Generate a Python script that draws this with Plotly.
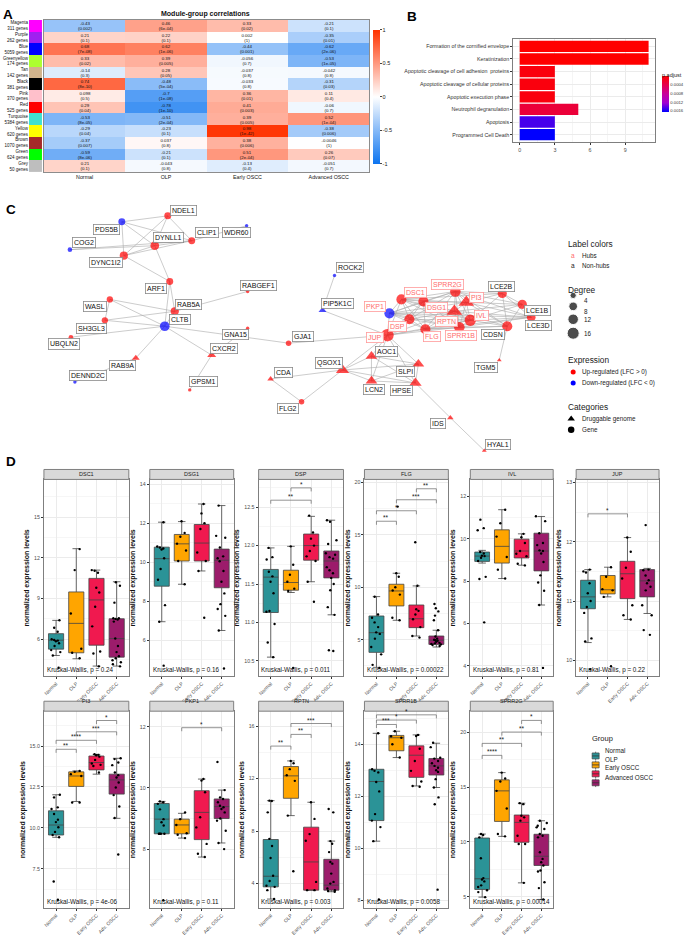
import math
import plotly.graph_objects as go

W, H = 685, 936
FONT = "Liberation Sans, Arial, sans-serif"


def fx(px):
    return px / W


def fy(px):
    return 1 - px / H


# ---------------- Panel A data: module-group correlations ----------------
stages = ["Normal", "OLP", "Early OSCC", "Advanced OSCC"]
modules = ["Magenta", "Purple", "Blue", "Greenyellow", "Tan", "Black", "Pink",
           "Red", "Turquoise", "Yellow", "Brown", "Green", "Grey"]
module_genes = [311, 262, 5059, 174, 142, 381, 370, 525, 5384, 620, 1070, 624, 50]
module_colors = ["#FF00FF", "#A020F0", "#0000FF", "#ADFF2F", "#D2B48C", "#000000", "#FFC0CB",
                 "#FF0000", "#40E0D0", "#FFFF00", "#A52A2A", "#00FF00", "#BEBEBE"]
cor_r = [
    [-0.43, 0.46, 0.33, -0.21],
    [0.21, 0.22, 0.002, -0.35],
    [0.68, 0.62, -0.44, -0.62],
    [0.33, 0.39, -0.056, -0.53],
    [-0.14, 0.28, -0.037, -0.042],
    [0.74, -0.48, -0.033, -0.31],
    [0.098, -0.7, 0.36, 0.11],
    [0.29, -0.78, 0.41, -0.06],
    [-0.53, -0.51, 0.39, 0.52],
    [-0.29, -0.23, 0.98, -0.38],
    [-0.37, 0.037, 0.38, -0.0046],
    [-0.59, -0.21, 0.51, 0.26],
    [0.21, -0.043, -0.13, -0.051],
]
cor_p = [
    ["0.002", "6e-04", "0.02", "0.1"],
    ["0.1", "0.1", "1", "0.01"],
    ["7e-08", "1e-06", "0.001", "2e-06"],
    ["0.02", "0.005", "0.7", "1e-05"],
    ["0.3", "0.05", "0.8", "0.8"],
    ["8e-10", "5e-04", "0.8", "0.03"],
    ["0.5", "1e-08", "0.01", "0.4"],
    ["0.04", "1e-10", "0.003", "0.7"],
    ["8e-05", "2e-04", "0.005", "1e-04"],
    ["0.04", "0.1", "1e-42", "0.006"],
    ["0.007", "0.8", "0.006", "1"],
    ["8e-06", "0.1", "2e-04", "0.07"],
    ["0.1", "0.8", "0.4", "0.7"],
]

# ---------------- Panel B data: pathway enrichment ----------------
pathways = ["Formation of the cornified envelope", "Keratinization",
            "Apoptotic cleavage of cell adhesion  proteins", "Apoptotic cleavage of cellular proteins",
            "Apoptotic execution phase", "Neutrophil degranulation", "Apoptosis", "Programmed Cell Death"]
path_counts = [11, 11, 3, 3, 3, 5, 3, 3]
path_padj = [0.00003, 0.00003, 0.00010, 0.00010, 0.00010, 0.00033, 0.00150, 0.00168]

# ---------------- Panel C data: PPI network ----------------
nodes = ["NDEL1", "PDS5B", "CLIP1", "WDR60", "DYNLL1", "COG2", "DYNC1I2", "ARF1", "RABGEF1", "WASL",
         "RAB5A", "CLTB", "SH3GL3", "UBQLN2", "GNA15", "CXCR2", "GJA1", "RAB9A", "DENND2C", "GPSM1",
         "CDA", "QSOX1", "FLG2", "ROCK2", "PIP5K1C", "PKP1", "DSC1", "SPRR2G", "DSG1", "PI3",
         "LCE2B", "RPTN", "IVL", "LCE1B", "LCE3D", "DSP", "FLG", "SPRR1B", "CDSN", "JUP",
         "AOC1", "TGM5", "SLPI", "LCN2", "HPSE", "IDS", "HYAL1"]
# layout coordinates of nodes and their labels (force-layout output)
node_x = [167, 121, 191, 246, 154, 69, 123, 169, 247, 109, 174, 164, 104, 70, 247, 211, 288, 135, 74, 189,
          270, 342, 301, 334, 322, 389, 401, 455, 423, 466, 502, 454, 470, 522, 531, 409, 425, 459, 507, 387,
          371, 499, 418, 371, 415, 450, 484]
node_y = [217, 223, 242, 227, 247, 251, 257, 283, 293, 301, 313, 328, 322, 339, 330, 357, 345, 360, 384, 392,
          381, 372, 404, 277, 312, 315, 301, 293, 303, 304, 295, 313, 322, 306, 319, 321, 331, 329, 328, 337,
          358, 362, 366, 383, 385, 420, 453]
label_x = [183, 106, 206, 236, 168, 83, 105, 155, 258, 94, 188, 179, 91, 63, 235, 223, 302, 122, 87, 203,
           283, 328, 287, 350, 337, 375, 415, 447, 436, 476, 501, 446, 481, 537, 538, 397, 432, 461, 493, 375,
           386, 486, 405, 374, 401, 438, 498]
label_y = [212, 231, 234, 234, 239, 244, 264, 290, 287, 308, 306, 321, 330, 346, 336, 350, 338, 367, 378, 384,
           375, 365, 411, 269, 305, 308, 294, 286, 309, 299, 288, 323, 317, 312, 327, 328, 338, 337, 336, 339,
           353, 369, 373, 392, 393, 426, 447]
node_degree = [5, 5, 5, 1, 8, 2, 7, 5, 1, 4, 7, 10, 4, 2, 1, 4, 3, 3, 1, 1,
               2, 9, 3, 1, 3, 11, 11, 12, 11, 13, 9, 13, 14, 9, 8, 11, 11, 12, 11, 17,
               7, 1, 7, 7, 8, 2, 1]
down_genes = ["PDS5B", "WDR60", "COG2", "CLTB", "DENND2C", "ROCK2", "PIP5K1C", "PKP1"]
druggable = ["CXCR2", "RAB9A", "CDA", "QSOX1", "PIP5K1C", "PI3", "RPTN", "AOC1", "TGM5", "SLPI",
             "LCN2", "HPSE", "IDS", "HYAL1"]
hubs = ["PKP1", "DSC1", "SPRR2G", "DSG1", "PI3", "RPTN", "IVL", "DSP", "FLG", "SPRR1B", "JUP"]
edges = [
    ("NDEL1", "PDS5B"), ("NDEL1", "DYNLL1"), ("NDEL1", "DYNC1I2"), ("NDEL1", "CLIP1"),
    ("PDS5B", "DYNLL1"), ("PDS5B", "DYNC1I2"), ("PDS5B", "CLIP1"), ("DYNLL1", "CLIP1"),
    ("DYNLL1", "DYNC1I2"), ("DYNC1I2", "CLIP1"), ("COG2", "DYNLL1"), ("COG2", "CLIP1"),
    ("WDR60", "CLIP1"), ("DYNLL1", "ARF1"), ("DYNC1I2", "ARF1"), ("ARF1", "RAB5A"), ("ARF1", "CLTB"),
    ("WASL", "RAB5A"), ("WASL", "CLTB"), ("WASL", "SH3GL3"), ("SH3GL3", "RAB5A"), ("SH3GL3", "CLTB"),
    ("UBQLN2", "CLTB"), ("RAB5A", "CLTB"), ("RAB5A", "RABGEF1"), ("CLTB", "RAB9A"),
    ("RAB9A", "DENND2C"), ("CLTB", "GJA1"), ("CLTB", "CXCR2"), ("CXCR2", "GNA15"), ("CXCR2", "GPSM1"),
    ("GJA1", "JUP"), ("ROCK2", "PIP5K1C"), ("PIP5K1C", "JUP"), ("QSOX1", "CDA"), ("CDA", "FLG2"),
    ("FLG2", "QSOX1"), ("QSOX1", "JUP"), ("QSOX1", "AOC1"), ("QSOX1", "LCN2"), ("QSOX1", "SLPI"),
    ("QSOX1", "HPSE"), ("AOC1", "JUP"), ("AOC1", "LCN2"), ("AOC1", "SLPI"), ("AOC1", "HPSE"),
    ("JUP", "SLPI"), ("JUP", "LCN2"), ("JUP", "HPSE"), ("LCN2", "SLPI"), ("LCN2", "HPSE"),
    ("SLPI", "HPSE"), ("HPSE", "IDS"), ("IDS", "HYAL1"), ("CDSN", "TGM5"),
    ("PKP1", "DSC1"), ("PKP1", "DSG1"), ("PKP1", "DSP"), ("PKP1", "JUP"), ("PKP1", "SPRR2G"),
    ("PKP1", "PI3"), ("PKP1", "RPTN"), ("PKP1", "IVL"), ("PKP1", "FLG"), ("PKP1", "SPRR1B"),
    ("PKP1", "LCE3D"), ("DSC1", "DSG1"), ("DSC1", "DSP"), ("DSC1", "JUP"), ("DSC1", "SPRR2G"),
    ("DSC1", "PI3"), ("DSC1", "IVL"), ("DSC1", "FLG"), ("DSC1", "SPRR1B"), ("DSC1", "RPTN"),
    ("DSC1", "LCE2B"), ("DSG1", "DSP"), ("DSG1", "JUP"), ("DSG1", "SPRR2G"), ("DSG1", "RPTN"),
    ("DSG1", "IVL"), ("DSG1", "FLG"), ("DSG1", "SPRR1B"), ("DSG1", "PI3"), ("DSP", "JUP"),
    ("DSP", "FLG"), ("DSP", "SPRR1B"), ("DSP", "RPTN"), ("DSP", "IVL"), ("DSP", "SPRR2G"),
    ("JUP", "FLG"), ("JUP", "SPRR1B"), ("JUP", "IVL"), ("JUP", "RPTN"), ("SPRR2G", "PI3"),
    ("SPRR2G", "LCE2B"), ("SPRR2G", "LCE1B"), ("SPRR2G", "IVL"), ("SPRR2G", "RPTN"),
    ("SPRR2G", "SPRR1B"), ("SPRR2G", "FLG"), ("SPRR2G", "LCE3D"), ("SPRR2G", "CDSN"),
    ("PI3", "LCE2B"), ("PI3", "RPTN"), ("PI3", "IVL"), ("PI3", "SPRR1B"), ("PI3", "LCE1B"),
    ("PI3", "CDSN"), ("PI3", "LCE3D"), ("RPTN", "IVL"), ("RPTN", "FLG"), ("RPTN", "SPRR1B"),
    ("RPTN", "LCE1B"), ("RPTN", "CDSN"), ("RPTN", "LCE3D"), ("IVL", "SPRR1B"), ("IVL", "LCE1B"),
    ("IVL", "LCE3D"), ("IVL", "CDSN"), ("IVL", "LCE2B"), ("IVL", "FLG"), ("LCE2B", "LCE1B"),
    ("LCE2B", "LCE3D"), ("LCE2B", "CDSN"), ("LCE1B", "LCE3D"), ("LCE1B", "CDSN"),
    ("FLG", "SPRR1B"), ("FLG", "CDSN"), ("FLG", "LCE3D"), ("SPRR1B", "CDSN"), ("SPRR1B", "LCE3D"),
]

# ---------------- Panel D data: expression boxplots ----------------
group_names = ["Normal", "OLP", "Early OSCC", "Advanced OSCC"]
group_ticks = ["Normal", "OLP", "Early OSCC", "Adv. OSCC"]
group_colors = ["#2B9397", "#FFA500", "#F0194F", "#9C1C6B"]
genes_d = ["DSC1", "DSG1", "DSP", "FLG", "IVL", "JUP", "PI3", "PKP1", "RPTN", "SPRR1B", "SPRR2G"]
kw_p = ["0.24", "0.16", "0.011", "0.00022", "0.81", "0.22", "4e-06", "0.11", "0.003", "0.0058", "0.00014"]
# per group: q1, median, q3, lower whisker, upper whisker
box_stats = {
    "DSC1": [[5.27, 5.93, 6.41, 4.80, 7.39], [5.0, 7.17, 9.49, 4.56, 12.68],
             [5.56, 8.9, 10.49, 4.02, 11.1], [4.68, 6.05, 7.51, 4.02, 10.24]],
    "DSG1": [[8.77, 10.18, 10.77, 6.95, 12.05], [10.06, 10.94, 11.42, 8.87, 12.08],
             [10.06, 10.98, 11.93, 9.55, 12.98], [8.69, 10.1, 10.67, 6.5, 12.9]],
    "DSP": [[11.13, 11.59, 11.69, 10.55, 11.97], [11.42, 11.52, 11.68, 11.39, 11.99],
            [11.81, 12.0, 12.15, 11.53, 12.38], [11.58, 11.8, 11.93, 11.1, 12.33]],
    "FLG": [[3.79, 5.67, 7.26, 2.36, 9.11], [8.22, 9.65, 10.29, 6.85, 11.34],
            [6.15, 7.0, 8.31, 5.35, 10.13], [4.55, 4.95, 5.35, 4.3, 5.9]],
    "IVL": [[8.93, 9.18, 9.37, 8.85, 9.45], [8.85, 9.64, 10.42, 8.12, 11.37],
            [9.09, 9.42, 9.98, 8.75, 10.23], [8.48, 9.42, 10.26, 6.87, 11.05]],
    "JUP": [[10.87, 11.07, 11.35, 10.3, 11.53], [11.12, 11.19, 11.43, 11.07, 11.57],
            [11.04, 11.46, 11.67, 10.69, 12.07], [11.07, 11.34, 11.53, 10.79, 11.55]],
    "PI3": [[9.56, 10.17, 11.04, 9.42, 12.02], [12.53, 13.17, 13.42, 11.61, 13.48],
            [13.54, 13.99, 14.39, 13.28, 14.49], [12.06, 12.93, 13.28, 10.58, 14.25]],
    "PKP1": [[8.5, 8.98, 9.49, 8.5, 9.56], [8.5, 8.79, 8.98, 8.36, 9.17],
             [8.31, 9.2, 9.91, 7.74, 10.29], [9.0, 9.39, 9.64, 8.2, 9.93]],
    "RPTN": [[3.75, 4.56, 7.36, 2.82, 10.32], [10.5, 12.21, 12.92, 9.18, 13.35],
             [3.5, 5.65, 8.3, 3.5, 10.2], [3.5, 3.88, 5.85, 3.38, 7.24]],
    "SPRR1B": [[11.07, 12.57, 13.04, 10.28, 14.42], [13.75, 14.25, 14.34, 13.49, 14.5],
               [12.73, 13.58, 13.94, 12.4, 14.36], [12.82, 13.17, 13.45, 12.34, 14.04]],
    "SPRR2G": [[5.68, 6.65, 10.36, 4.98, 10.72], [11.87, 14.65, 15.65, 10.51, 16.31],
               [9.97, 11.78, 12.45, 6.28, 13.53], [7.86, 8.7, 10.7, 4.77, 11.93]],
}
box_points = {
    "DSC1": [[7.4, 6.85, 6.55, 6.0, 5.95, 5.9, 5.85, 5.7, 5.5, 5.2, 5.05, 4.8, 3.9],
             [12.65, 11.1, 7.9, 5.3, 5.0, 4.6],
             [11.1, 11.05, 10.9, 9.8, 9.45, 8.4, 6.95, 5.1, 4.95, 4.0],
             [10.2, 9.95, 8.7, 7.55, 7.55, 7.5, 7.45, 7.3, 6.05, 5.5, 5.05, 4.75, 4.6, 4.45, 4.3, 4.15, 4.0]],
    "DSG1": [[12.05, 10.8, 10.75, 10.7, 10.65, 10.2, 9.65, 9.1, 7.8, 6.95, 4.7],
             [12.1, 11.5, 11.3, 10.95, 10.6, 10.06, 8.87],
             [12.98, 12.5, 12.0, 11.7, 10.5, 10.06, 9.55, 7.15],
             [12.9, 11.35, 11.25, 10.75, 10.3, 10.2, 10.05, 9.55, 9.0, 8.4, 7.85, 7.6, 7.25, 6.5, 4.55]],
    "DSP": [[11.97, 11.85, 11.82, 11.66, 11.6, 11.53, 11.38, 11.15, 11.14, 10.98, 10.74, 10.55],
            [11.99, 11.75, 11.62, 11.53, 11.44, 11.41, 10.41],
            [12.39, 12.17, 12.09, 12.0, 11.93, 11.86, 11.8, 11.53, 11.27],
            [12.33, 12.31, 12.07, 12.02, 11.9, 11.88, 11.85, 11.83, 11.72, 11.68, 11.64, 11.58, 11.5,
             11.42, 11.2, 11.1, 10.64, 10.63]],
    "FLG": [[9.1, 7.4, 7.1, 6.65, 6.2, 5.7, 5.55, 5.1, 4.3, 3.6, 2.6, 2.3],
            [17.7, 11.35, 11.0, 10.0, 9.7, 9.3, 7.1, 6.85],
            [14.3, 10.15, 7.9, 7.75, 7.4, 6.95, 6.2, 5.35, 5.2],
            [8.4, 8.0, 7.7, 7.3, 6.85, 5.9, 5.3, 5.1, 5.0, 4.95, 4.9, 4.8, 4.7, 4.65, 4.6, 4.55, 4.5, 4.4]],
    "IVL": [[10.9, 10.5, 10.4, 9.37, 9.3, 9.2, 9.18, 9.1, 8.95, 8.2, 8.1, 6.05],
            [11.37, 10.73, 10.1, 9.14, 8.54, 8.12],
            [10.23, 10.07, 9.8, 9.42, 9.29, 9.17, 8.82, 8.74],
            [11.06, 10.83, 10.26, 9.8, 9.7, 9.45, 9.42, 9.3, 8.9, 8.27, 7.93, 7.54, 6.87, 3.9]],
    "JUP": [[11.53, 11.5, 11.48, 11.3, 11.13, 11.0, 10.9, 10.8, 10.37, 10.32, 9.85],
            [11.57, 11.41, 11.2, 11.18, 11.07, 9.9],
            [12.07, 11.83, 11.56, 11.38, 10.93, 10.76, 10.69],
            [12.28, 11.53, 11.52, 11.43, 11.35, 11.3, 11.24, 11.18, 10.93, 10.76, 10.51, 10.43]],
    "PI3": [[12.02, 11.86, 11.25, 11.15, 10.84, 10.5, 10.35, 10.03, 9.75, 9.56, 9.42, 6.72, 5.6],
            [13.48, 13.42, 13.28, 13.17, 11.55, 11.55],
            [14.5, 14.46, 14.44, 14.35, 14.15, 13.93, 13.85, 13.78, 13.38],
            [14.25, 14.2, 13.99, 13.83, 13.38, 13.22, 13.08, 12.77, 12.46, 12.0, 11.3, 10.6, 8.37]],
    "PKP1": [[9.56, 9.53, 9.48, 9.3, 8.98, 8.88, 8.77, 8.5, 8.5, 8.5, 8.5, 6.33],
             [9.2, 8.98, 8.79, 8.52, 8.47, 8.36],
             [10.29, 10.24, 9.86, 9.04, 8.71, 8.17, 7.85, 7.74],
             [10.85, 9.93, 9.69, 9.64, 9.53, 9.42, 9.37, 9.31, 9.2, 9.0, 8.93, 8.6, 8.2, 8.0]],
    "RPTN": [[10.32, 10.3, 9.43, 7.41, 6.86, 5.95, 4.6, 4.2, 3.83, 3.75, 3.5, 2.82],
             [13.35, 13.17, 12.72, 12.26, 11.83, 9.18, 4.94],
             [10.2, 8.93, 7.77, 7.26, 4.13, 3.5, 3.5],
             [9.68, 9.43, 7.24, 7.04, 6.4, 5.65, 5.52, 4.76, 4.13, 4.0, 3.62, 3.5, 3.43, 3.38]],
    "SPRR1B": [[14.42, 13.04, 12.98, 12.92, 12.55, 12.19, 11.32, 11.07, 10.82, 10.28, 8.04],
               [14.5, 14.31, 14.25, 14.0, 13.49],
               [14.36, 14.32, 13.83, 13.36, 12.98, 12.57, 12.4, 12.37],
               [14.06, 13.89, 13.48, 13.45, 13.36, 13.27, 13.17, 13.1, 13.0, 12.94, 12.66, 12.34,
                11.96, 11.7, 8.42]],
    "SPRR2G": [[10.72, 10.63, 10.42, 8.52, 6.71, 6.59, 6.41, 6.05, 5.9, 5.6, 5.44, 4.98],
               [16.31, 15.77, 15.5, 14.65, 13.05, 10.72, 10.51],
               [13.53, 13.44, 12.39, 12.24, 11.94, 10.57, 9.82, 9.82, 6.28],
               [11.93, 11.72, 11.48, 11.33, 11.18, 10.72, 10.57, 10.42, 9.06, 8.46, 8.16, 7.86, 7.4,
                7.31, 6.34, 5.8, 4.77]],
}
# pairwise comparisons: group a, group b, bracket height, significance
brackets = {
    "DSP": [(1, 3, 12.59, "**"), (2, 3, 12.75, "*")],
    "FLG": [(1, 2, 16.3, "**"), (1, 3, 17.3, "*"), (2, 4, 18.35, "***"), (3, 4, 19.4, "**")],
    "JUP": [(1, 3, 12.47, "*")],
    "PI3": [(1, 2, 14.8, "**"), (1, 3, 15.35, "****"), (2, 4, 15.87, "***"), (3, 4, 16.56, "*")],
    "PKP1": [(2, 4, 11.97, "*")],
    "RPTN": [(1, 2, 14.48, "**"), (2, 3, 15.37, "**"), (2, 4, 16.2, "***")],
    "SPRR1B": [(1, 2, 14.76, "***"), (1, 3, 14.93, "*"), (1, 4, 15.13, "*")],
    "SPRR2G": [(1, 2, 17.88, "****"), (1, 3, 18.97, "**"), (2, 4, 20.0, "**"), (3, 4, 21.06, "*")],
}
y_ranges = {"DSC1": [3.26, 17.79], "DSG1": [4.15, 14.24], "DSP": [10.30, 12.86], "FLG": [1.5, 20.29],
            "IVL": [3.5, 12.8], "JUP": [9.73, 13.05], "PI3": [5.09, 17.13], "PKP1": [6.07, 12.51],
            "RPTN": [2.13, 17.14], "SPRR1B": [7.71, 15.27], "SPRR2G": [3.98, 21.9]}
y_dtick = {"DSC1": 3, "DSG1": 2, "DSP": 0.5, "FLG": 5, "IVL": 2, "JUP": 1, "PI3": 2.5, "PKP1": 2,
           "RPTN": 4, "SPRR1B": 2, "SPRR2G": 5}

# ---------------- styling ----------------
HEAT_SCALE = [[0, "#0C74F0"], [0.5, "#FFFFFF"], [1, "#FF3300"]]
PADJ_SCALE = [[0, "#0000FF"], [0.25, "#A000D2"], [0.5, "#C8009B"], [0.75, "#E4004E"], [1, "#FF0000"]]
GRID = "#EBEBEB"
BORDER = "#7F7F7F"
TICK = dict(size=5.3, color="#4D4D4D")

fig = go.Figure()
layout = dict(
    width=W, height=H, margin=dict(l=0, r=0, t=0, b=0),
    paper_bgcolor="white", plot_bgcolor="white",
    font=dict(family=FONT, size=6, color="#1A1A1A"),
    boxmode="overlay", hovermode=False, showlegend=False,
)
annotations, shapes = [], []


def paper_text(t, x, y, size=6.3, color="#1A1A1A", xanchor="left"):
    annotations.append(dict(text=t, x=fx(x), y=fy(y), xref="paper", yref="paper", xanchor=xanchor,
                            showarrow=False, font=dict(size=size, color=color)))


# panel letters
for letter, (lx, ly) in zip("ABCD", [(7, 5), (412, 7), (10, 201), (10, 464)]):
    paper_text(f"<b>{letter}</b>", lx, ly, 13.5, "black", "center")

# ---------------- A: heatmap ----------------
cell_text = [[f"{r}<br>({p})" for r, p in zip(rr, pp)] for rr, pp in zip(cor_r, cor_p)]
fig.add_trace(go.Heatmap(
    z=cor_r, x=stages, y=modules, text=cell_text, texttemplate="%{text}",
    textfont=dict(size=4.4, color="#111"), zmin=-1, zmax=1, colorscale=HEAT_SCALE,
    xaxis="x", yaxis="y",
    colorbar=dict(x=fx(373), xanchor="left", y=fy(97.5), yanchor="middle", len=135 / H, ypad=0,
                  xpad=0, thickness=7, tickvals=[-1, -0.5, 0, 0.5, 1],
                  ticktext=["-1", "-0.5", "0", "0.5", "1"],
                  ticks="outside", ticklen=2, tickfont=dict(size=5.5), outlinewidth=0),
))
fig.add_trace(go.Heatmap(
    z=[[i] for i in range(len(modules))], x=["m"], y=modules, zmin=0, zmax=len(modules) - 1,
    colorscale=[[i / (len(modules) - 1), c] for i, c in enumerate(module_colors)],
    showscale=False, xaxis="x2", yaxis="y2",
))
layout["xaxis"] = dict(domain=[fx(43), fx(369)], anchor="y", showline=True, mirror=True,
                       linecolor="#8C8C8C", linewidth=1, ticks="", tickfont=dict(size=5.3, color="#111"),
                       showgrid=False, zeroline=False)
layout["yaxis"] = dict(domain=[fy(173), fy(20)], anchor="x", autorange="reversed", showline=True,
                       mirror=True, linecolor="#8C8C8C", linewidth=1, showticklabels=False,
                       ticks="", showgrid=False, zeroline=False)
layout["xaxis2"] = dict(domain=[fx(28), fx(41)], anchor="y2", visible=False)
layout["yaxis2"] = dict(domain=[fy(173), fy(20)], anchor="x2", autorange="reversed", ticks="",
                        tickmode="array", tickvals=modules,
                        ticktext=[f"{m}<br>{n} genes" for m, n in zip(modules, module_genes)],
                        tickfont=dict(size=4.5, color="#111"), showgrid=False, zeroline=False,
                        automargin=False)
paper_text("<b>Module-group correlations</b>", 205, 8, 7, "#111", "center")

# ---------------- B: pathway bars ----------------
fig.add_trace(go.Bar(
    x=path_counts, y=pathways, orientation="h", width=0.9, xaxis="x3", yaxis="y3",
    marker=dict(color=[-p for p in path_padj], colorscale=PADJ_SCALE, cmin=-max(path_padj),
                cmax=-min(path_padj), line=dict(width=0),
                colorbar=dict(x=fx(662), xanchor="left", y=fy(95), yanchor="middle", len=36 / H,
                              ypad=0, xpad=0, thickness=7,
                              tickvals=[-0.0004, -0.0008, -0.0012, -0.0016],
                              ticktext=["0.0004", "0.0008", "0.0012", "0.0016"], ticks="",
                              tickfont=dict(size=4.2, color="#333"), outlinewidth=0)),
))
paper_text("p.adjust", 660, 70, 5.5)
layout["xaxis3"] = dict(domain=[fx(513), fx(655)], anchor="y3", range=[-0.55, 11.55],
                        tickvals=[0, 3, 6, 9], ticks="outside", ticklen=2, tickcolor="#333",
                        tickfont=TICK, showgrid=True, gridcolor=GRID,
                        minor=dict(dtick=1.5, showgrid=True, gridcolor="#F5F5F5"),
                        showline=True, mirror=True, linecolor=BORDER, zeroline=False)
layout["yaxis3"] = dict(domain=[fy(143), fy(39)], anchor="x3", range=[len(pathways) - 0.4, -0.6],
                        type="category", categoryorder="array", categoryarray=pathways,
                        ticks="outside", ticklen=2, tickcolor="#333", tickfont=dict(size=5.3, color="#333"),
                        showgrid=True, gridcolor=GRID, showline=True, mirror=True,
                        linecolor=BORDER, zeroline=False, automargin=False)


# ---------------- C: network ----------------
def node_size(deg):
    return 2.9 * math.sqrt(deg) + 0.5


pos = {n: (x, y) for n, x, y in zip(nodes, node_x, node_y)}
ex, ey = [], []
for a, b in edges:
    ex += [pos[a][0], pos[b][0], None]
    ey += [pos[a][1], pos[b][1], None]
fig.add_trace(go.Scatter(x=ex, y=ey, mode="lines", line=dict(color="#A9A9A9", width=0.6),
                         xaxis="x4", yaxis="y4"))
for is_down in (False, True):
    for is_drug in (False, True):
        idx = [i for i, n in enumerate(nodes) if (n in down_genes) == is_down and (n in druggable) == is_drug]
        if not idx:
            continue
        fig.add_trace(go.Scatter(
            x=[node_x[i] for i in idx], y=[node_y[i] for i in idx], mode="markers",
            marker=dict(color="#0000FF" if is_down else "#FF0000",
                        symbol="triangle-up" if is_drug else "circle",
                        size=[node_size(node_degree[i]) * (1.25 if is_drug else 1) for i in idx],
                        line=dict(width=0)),
            xaxis="x4", yaxis="y4"))
for i, n in enumerate(nodes):
    hub = n in hubs
    annotations.append(dict(text=n, x=label_x[i], y=label_y[i], xref="x4", yref="y4", showarrow=False,
                            font=dict(size=7, color="#FF6B6B" if hub else "#111"),
                            bgcolor="rgba(255,255,255,0.9)", bordercolor="#FF9A9A" if hub else "#8A8A8A",
                            borderwidth=0.8, borderpad=1.2))
layout["xaxis4"] = dict(domain=[0, 1], anchor="y4", range=[0, W], visible=False)
layout["yaxis4"] = dict(domain=[fy(470), fy(190)], anchor="x4", range=[470, 190], visible=False)

# network legend (keys in the network's own coordinate space)
LX = 566
paper_text("Label colors", LX, 238, 8.3)
paper_text("a", LX + 3, 251, 6.5, "#FF6B6B")
paper_text("Hubs", LX + 14, 251)
paper_text("a", LX + 3, 261, 6.5)
paper_text("Non-hubs", LX + 14, 261)
paper_text("Degree", LX, 285, 8.3)
deg_levels = [4, 8, 12, 16]
deg_y = [297, 308, 321, 335]
fig.add_trace(go.Scatter(x=[573] * 4, y=deg_y, mode="markers", xaxis="x4", yaxis="y4",
                         marker=dict(color="black", size=[node_size(d) for d in deg_levels])))
for d, yy in zip(deg_levels, deg_y):
    paper_text(str(d), 582, yy)
paper_text("Expression", LX, 362, 8.3)
fig.add_trace(go.Scatter(x=[573, 573], y=[374, 385], mode="markers", xaxis="x4", yaxis="y4",
                         marker=dict(color=["#FF0000", "#0000FF"], size=5)))
paper_text("Up-regulated (LFC > 0)", 580, 374)
paper_text("Down-regulated (LFC < 0)", 580, 385)
paper_text("Categories", LX, 409, 8.3)
fig.add_trace(go.Scatter(x=[571, 571], y=[421, 432], mode="markers", xaxis="x4", yaxis="y4",
                         marker=dict(color="black", symbol=["triangle-up", "circle"], size=6.5)))
paper_text("Druggable genome", 580, 421)
paper_text("Gene", 580, 432)

# ---------------- D: boxplots ----------------
col_px = [(43, 128), (149, 233), (258, 343), (364, 448), (470, 553), (576, 659)]
row_px = [(482, 680), (715, 913)]
for k, gene in enumerate(genes_d):
    row, col = divmod(k, 6)
    n = k + 5
    xa, ya = f"x{n}", f"y{n}"
    x0, x1 = col_px[col]
    y0, y1 = row_px[row]
    lo, hi = y_ranges[gene]
    for g in range(4):
        q1, med, q3, wl, wh = box_stats[gene][g]
        fig.add_trace(go.Box(
            x=[g + 1], q1=[q1], median=[med], q3=[q3], lowerfence=[wl], upperfence=[wh],
            orientation="v", width=0.75, fillcolor=group_colors[g],
            line=dict(color="#444444", width=0.8), boxpoints=False, xaxis=xa, yaxis=ya))
        pts = box_points[gene][g]
        fig.add_trace(go.Box(
            x=[g + 1] * len(pts), y=pts, width=0.75, boxpoints="all", jitter=0.85, pointpos=0,
            fillcolor="rgba(0,0,0,0)", line=dict(color="rgba(0,0,0,0)", width=0),
            marker=dict(color="black", size=2.4), xaxis=xa, yaxis=ya))
    d = 0.018 * (hi - lo)
    for a, b, yb, lab in brackets.get(gene, []):
        fig.add_trace(go.Scatter(x=[a, a, b, b], y=[yb - d, yb, yb, yb - d], mode="lines",
                                 line=dict(color="#666666", width=0.7), xaxis=xa, yaxis=ya))
        annotations.append(dict(text=lab, x=(a + b) / 2, y=yb, xref=xa, yref=ya, yanchor="bottom",
                                showarrow=False, font=dict(size=6.5), yshift=-2))
    layout[f"xaxis{n}"] = dict(domain=[fx(x0), fx(x1)], anchor=ya, range=[0.4, 4.6],
                               tickvals=[1, 2, 3, 4], ticktext=group_ticks, tickangle=-45,
                               ticks="outside", ticklen=1.5, tickcolor="#333",
                               tickfont=dict(size=5, color="#4D4D4D"),
                               showgrid=True, gridcolor=GRID, showline=True, mirror=True,
                               linecolor=BORDER, linewidth=1, zeroline=False)
    layout[f"yaxis{n}"] = dict(domain=[fy(y1), fy(y0)], anchor=xa, range=[lo, hi], tick0=0,
                               dtick=y_dtick[gene], tickformat=".1f" if gene in ("DSP", "PI3") else "",
                               ticks="outside", ticklen=2, tickcolor="#333", tickfont=TICK,
                               showgrid=True, gridcolor=GRID,
                               minor=dict(dtick=y_dtick[gene] / 2, showgrid=True, gridcolor="#F6F6F6"),
                               showline=True, mirror=True, linecolor=BORDER, linewidth=1,
                               zeroline=False, automargin=False,
                               title=dict(text="<b>normalized expression levels</b>",
                                          font=dict(size=7, color="#111"), standoff=3))
    # facet strip
    shapes.append(dict(type="rect", xref="paper", yref="paper", x0=fx(x0), x1=fx(x1),
                       y0=fy(y0), y1=fy(y0 - 10), fillcolor="#D9D9D9",
                       line=dict(color=BORDER, width=1)))
    paper_text(gene, (x0 + x1) / 2, y0 - 5, 5.5, "#1A1A1A", "center")
    annotations.append(dict(text=f"Kruskal-Wallis, p = {kw_p[k]}", x=0.01, y=0.0,
                            xref=f"{xa} domain", yref=f"{ya} domain", xanchor="left",
                            yanchor="bottom", showarrow=False, font=dict(size=6.3, color="#111")))

# group legend drawn as ggplot-style box keys
paper_text("Group", 590, 749, 7.5)
for g, (name, color) in enumerate(zip(group_names, group_colors)):
    yc = 760 + 9 * g
    shapes.append(dict(type="line", xref="paper", yref="paper", x0=fx(595.5), x1=fx(595.5),
                       y0=fy(yc - 4.3), y1=fy(yc + 4.3), line=dict(color="#444", width=0.7)))
    shapes.append(dict(type="rect", xref="paper", yref="paper", x0=fx(592), x1=fx(599),
                       y0=fy(yc + 3), y1=fy(yc - 3), fillcolor=color, line=dict(color="#444", width=0.7)))
    shapes.append(dict(type="line", xref="paper", yref="paper", x0=fx(592), x1=fx(599),
                       y0=fy(yc), y1=fy(yc), line=dict(color="#333", width=0.8)))
    paper_text(name, 603, yc, 6.3)

layout["annotations"] = annotations
layout["shapes"] = shapes
fig.update_layout(**layout)
# the page body keeps its default 8px margin otherwise, shifting the figure
fig.write_html("out.html", config={"displayModeBar": False, "staticPlot": True},
               post_script="document.body.style.margin='0';document.body.style.overflow='hidden';")
